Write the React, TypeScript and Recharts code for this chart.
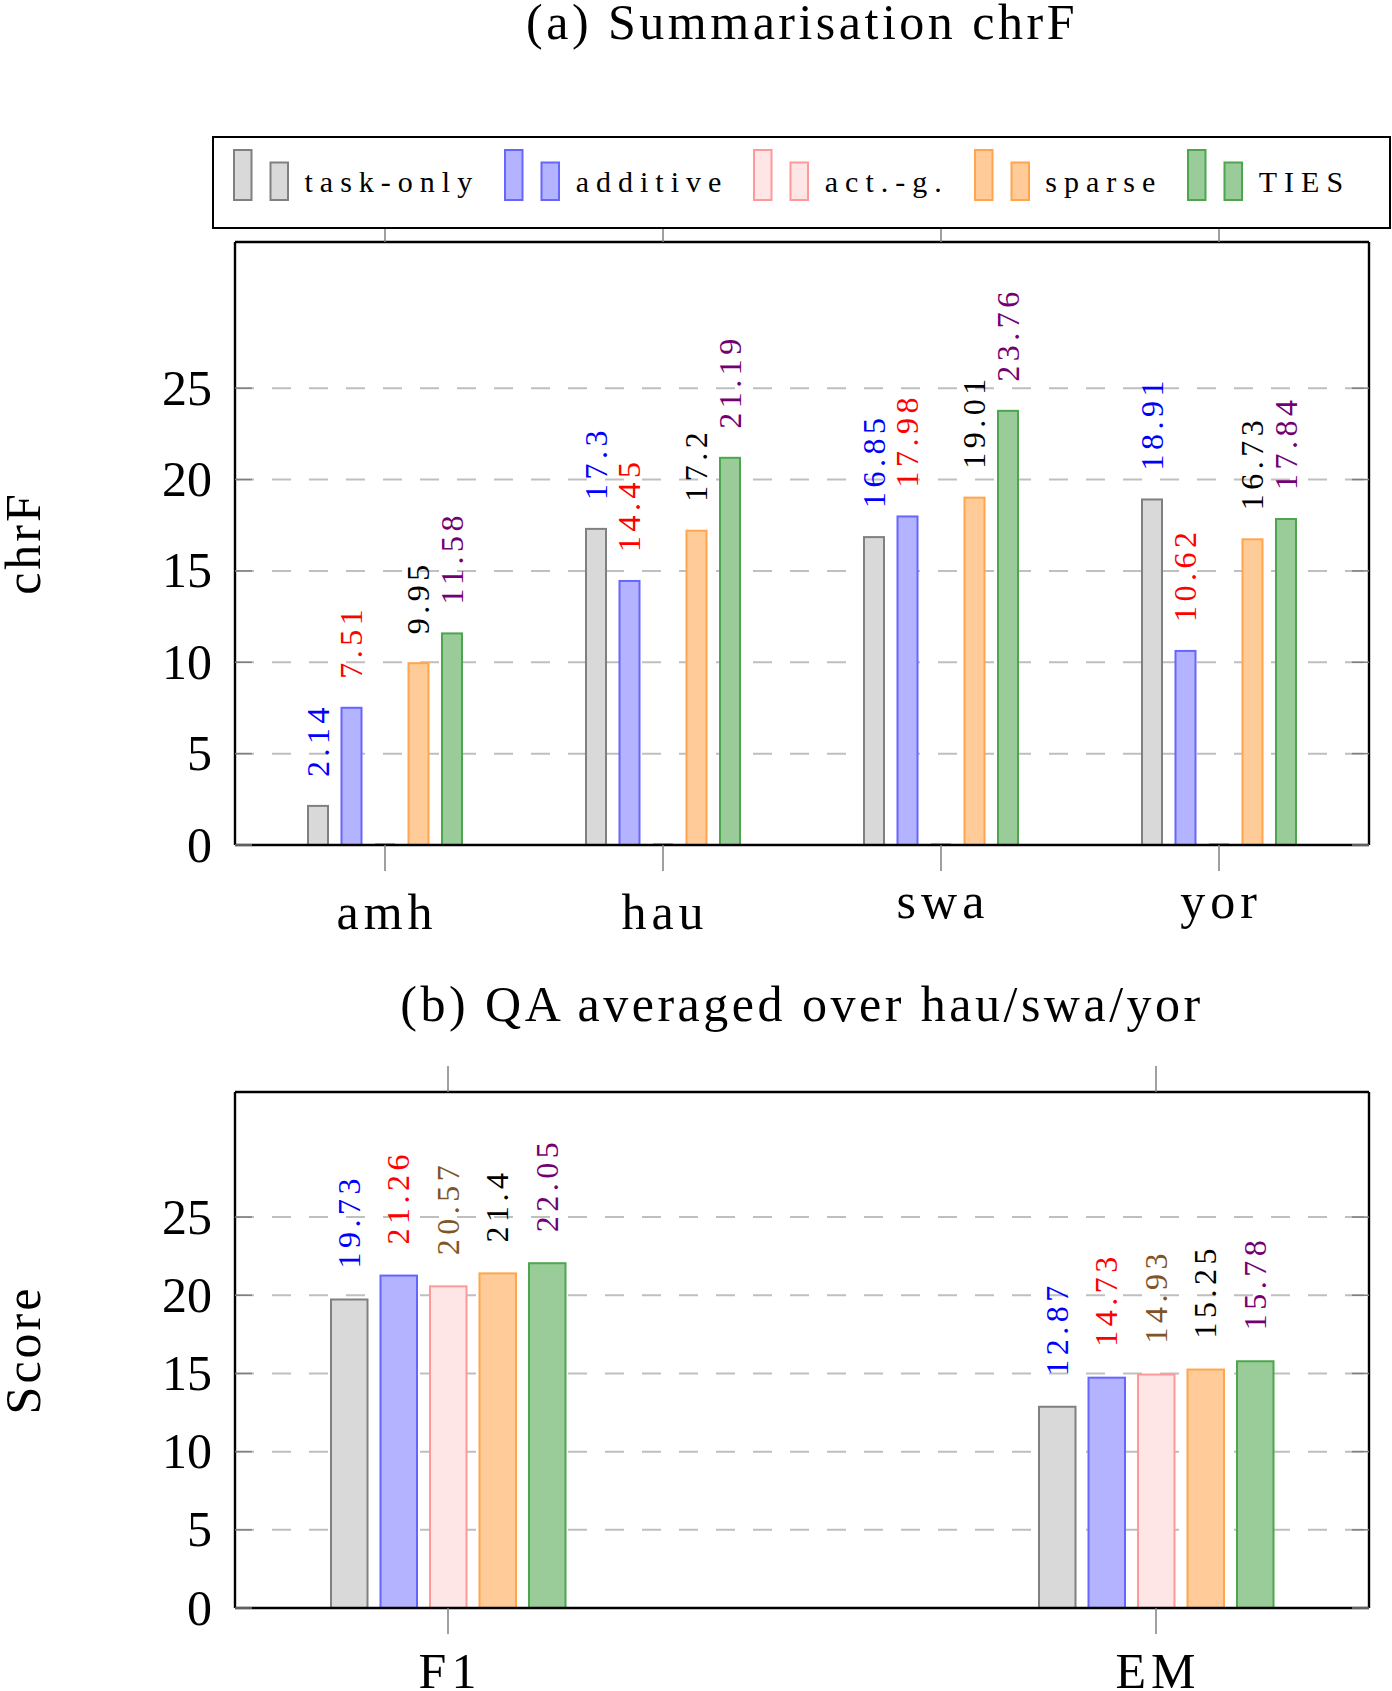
import React from 'react';
import { BarChart, Bar, XAxis, YAxis, CartesianGrid, LabelList } from 'recharts';

// ---------- data ----------
const categoriesA = ['amh', 'hau', 'swa', 'yor'];
const taskOnlyA = [2.14, 17.3, 16.85, 18.91];
const additiveA = [7.51, 14.45, 17.98, 10.62];
const actGA = [0, 0, 0, 0];
const sparseA = [9.95, 17.2, 19.01, 16.73];
const tiesA = [11.58, 21.19, 23.76, 17.84];

const categoriesB = ['F1', 'EM'];
const taskOnlyB = [19.73, 12.87];
const additiveB = [21.26, 14.73];
const actGB = [20.57, 14.93];
const sparseB = [21.4, 15.25];
const tiesB = [22.05, 15.78];

const seriesNames = ['task-only', 'additive', 'act.-g.', 'sparse', 'TIES'];
const seriesKeys = ['taskOnly', 'additive', 'actG', 'sparse', 'ties'];
const yTicks = [0, 5, 10, 15, 20, 25];
const yDomain = [0, 33];

const titleA = '(a) Summarisation chrF';
const titleB = '(b) QA averaged over hau/swa/yor';
const yTitleA = 'chrF';
const yTitleB = 'Score';

// ---------- styles ----------
const FILLS = ['#d9d9d9', '#b3b3ff', '#ffe6e6', '#ffcc99', '#99cc99'];
const STROKES = ['#808080', '#6666ff', '#ff9999', '#ffa64d', '#4da64d'];
const LABEL_COLORS = ['#0000ff', '#ff0000', '#7f5426', '#000000', '#730073'];
const FONT = '"Liberation Serif", "Times New Roman", serif';

const buildData = (cats: string[], cols: number[][]) =>
  cats.map((c, i) => {
    const row: any = { cat: c };
    seriesKeys.forEach((k, j) => (row[k] = cols[j][i]));
    return row;
  });

const dataA = buildData(categoriesA, [taskOnlyA, additiveA, actGA, sparseA, tiesA]);
const dataB = buildData(categoriesB, [taskOnlyB, additiveB, actGB, sparseB, tiesB]);

const PLOT_LEFT = 235;
const PLOT_RIGHT = 1369;
const W = 1392;

const BarShape = (props: any) => {
  const { x, y, width, height, fill, stroke } = props;
  if (!(width > 0)) return null;
  if (!(height > 0.5)) {
    const yy = y + (height || 0) - 1;
    return <line x1={x} x2={x + width} y1={yy} y2={yy} stroke={stroke} strokeWidth={2} />;
  }
  return <rect x={x} y={y} width={width} height={height} fill={fill} stroke={stroke} strokeWidth={2} />;
};

const makeLabel = (color: string, gap: number) => (props: any) => {
  const vb = props.viewBox || props;
  const value = props.value;
  if (value === 0 || value == null) return null;
  const cx = vb.x + vb.width / 2;
  const top = Math.min(vb.y, vb.y + vb.height);
  const fs = 32;
  return (
    <text
      transform={`translate(${cx + fs * 0.33}, ${top - gap}) rotate(-90)`}
      textAnchor="start"
      fontFamily={FONT}
      fontSize={fs}
      letterSpacing={4.5}
      fill={color}
    >
      {String(value)}
    </text>
  );
};

const LeftTick = (props: any) => {
  const { y, payload } = props;
  return (
    <g>
      <line x1={PLOT_LEFT} x2={PLOT_LEFT + 17} y1={y} y2={y} stroke="#7f7f7f" strokeWidth={1.5} />
      <text x={PLOT_LEFT - 23} y={y + 16.5} textAnchor="end" fontFamily={FONT} fontSize={50} fill="#000">
        {payload.value}
      </text>
    </g>
  );
};

const RightTick = (props: any) => {
  const { y } = props;
  return <line x1={PLOT_RIGHT - 17} x2={PLOT_RIGHT} y1={y} y2={y} stroke="#7f7f7f" strokeWidth={1.5} />;
};

const EmptyTick = () => <g />;

const makeXTick = (plotBottom: number, labelTop: number) => (props: any) => {
  const { x, payload } = props;
  const s = String(payload.value);
  const hasAsc = /[A-Zbdfhklt0-9]/.test(s);
  const baseline = plotBottom + labelTop + (hasAsc ? 34 : 22.5);
  return (
    <text x={x + 2} y={baseline} textAnchor="middle" fontFamily={FONT} fontSize={50} letterSpacing={5} fill="#000">
      {s}
    </text>
  );
};

type PanelProps = {
  data: any[];
  top: number;
  height: number;
  plotTop: number;
  plotBottom: number;
  barSize: number;
  barGap: number;
  labelGap: number;
  xPad: number;
  labelTop: number;
};

const Panel = ({ data, top, height, plotTop, plotBottom, barSize, barGap, labelGap, xPad, labelTop }: PanelProps) => {
  const margin = { top: plotTop - 1, right: W - PLOT_RIGHT - 1, left: 0, bottom: 0 };
  const xHeight = height - plotBottom;
  const axisLine = { stroke: '#000', strokeWidth: 2.4 };
  const tickLine = { stroke: '#808080', strokeWidth: 1.5 };
  return (
    <div style={{ position: 'absolute', left: 0, top, width: W, height }}>
      <BarChart width={W} height={height} data={data} margin={margin} barSize={barSize} barGap={barGap}>
        <CartesianGrid horizontal vertical={false} stroke="#bfbfbf" strokeWidth={2} strokeDasharray="19 18" />
        <XAxis
          dataKey="cat"
          height={xHeight}
          padding={{ left: xPad, right: xPad }}
          axisLine={axisLine}
          tickLine={tickLine}
          tickSize={26}
          interval={0}
          tick={makeXTick(plotBottom, labelTop)}
        />
        <XAxis
          xAxisId="top"
          orientation="top"
          dataKey="cat"
          height={1}
          padding={{ left: xPad, right: xPad }}
          axisLine={axisLine}
          tickLine={tickLine}
          tickSize={26}
          interval={0}
          tick={EmptyTick}
        />
        <YAxis
          type="number"
          width={PLOT_LEFT}
          domain={yDomain}
          ticks={yTicks}
          allowDataOverflow
          axisLine={axisLine}
          tickLine={false}
          tick={LeftTick}
        />
        <YAxis
          yAxisId="right"
          orientation="right"
          type="number"
          width={1}
          domain={yDomain}
          ticks={yTicks}
          allowDataOverflow
          axisLine={axisLine}
          tickLine={false}
          tick={RightTick}
        />
        {seriesKeys.map((k, i) => (
          <Bar
            key={k}
            dataKey={k}
            name={seriesNames[i]}
            fill={FILLS[i]}
            stroke={STROKES[i]}
            isAnimationActive={false}
            shape={BarShape}
          >
            <LabelList dataKey={k} content={makeLabel(LABEL_COLORS[i], labelGap)} />
          </Bar>
        ))}
      </BarChart>
    </div>
  );
};

const LegendBox = () => (
  <div
    style={{
      position: 'absolute',
      left: 212,
      top: 136,
      width: W - 212 - 1,
      height: 93,
      border: '2.6px solid #000',
      boxSizing: 'border-box',
      background: '#fff',
    }}
  >
    <div style={{ position: 'absolute', left: 19, top: 11.4, display: 'flex', alignItems: 'flex-end' }}>
      {seriesNames.map((n, i) => (
        <div key={n} style={{ display: 'flex', alignItems: 'flex-end', marginRight: 25 }}>
          <svg width={58} height={52} style={{ display: 'block' }}>
            <rect x={1} y={1} width={17.5} height={50} fill={FILLS[i]} stroke={STROKES[i]} strokeWidth={2} />
            <rect x={37.5} y={13.5} width={17.5} height={37.5} fill={FILLS[i]} stroke={STROKES[i]} strokeWidth={2} />
          </svg>
          <span
            style={{
              fontFamily: FONT,
              fontSize: 30,
              lineHeight: '30px',
              letterSpacing: 7,
              marginLeft: 13.5,
              marginBottom: 4,
              whiteSpace: 'nowrap',
              color: '#000',
            }}
          >
            {n}
          </span>
        </div>
      ))}
    </div>
  </div>
);

export default function App() {
  return (
    <div style={{ position: 'absolute', left: 0, top: 0, width: W, height: 1691, background: '#fff', overflow: 'hidden' }}>
      <Panel
        data={dataA}
        top={0}
        height={960}
        plotTop={242}
        plotBottom={845}
        barSize={20}
        barGap={13.5}
        labelGap={29}
        xPad={11}
        labelTop={50}
      />
      <Panel
        data={dataB}
        top={960}
        height={731}
        plotTop={132}
        plotBottom={648}
        barSize={36.5}
        barGap={13}
        labelGap={31}
        xPad={-141}
        labelTop={46}
      />
      <LegendBox />
      <svg width={W} height={1691} style={{ position: 'absolute', left: 0, top: 0, pointerEvents: 'none' }}>
        <text x={802} y={39} textAnchor="middle" fontFamily={FONT} fontSize={50} letterSpacing={3.5} fill="#000">
          {titleA}
        </text>
        <text x={802} y={1021} textAnchor="middle" fontFamily={FONT} fontSize={50} letterSpacing={3.5} fill="#000">
          {titleB}
        </text>
        <text transform="translate(40,543) rotate(-90)" textAnchor="middle" fontFamily={FONT} fontSize={50} letterSpacing={3} fill="#000">
          {yTitleA}
        </text>
        <text transform="translate(40,1350) rotate(-90)" textAnchor="middle" fontFamily={FONT} fontSize={50} letterSpacing={3} fill="#000">
          {yTitleB}
        </text>
      </svg>
    </div>
  );
}
